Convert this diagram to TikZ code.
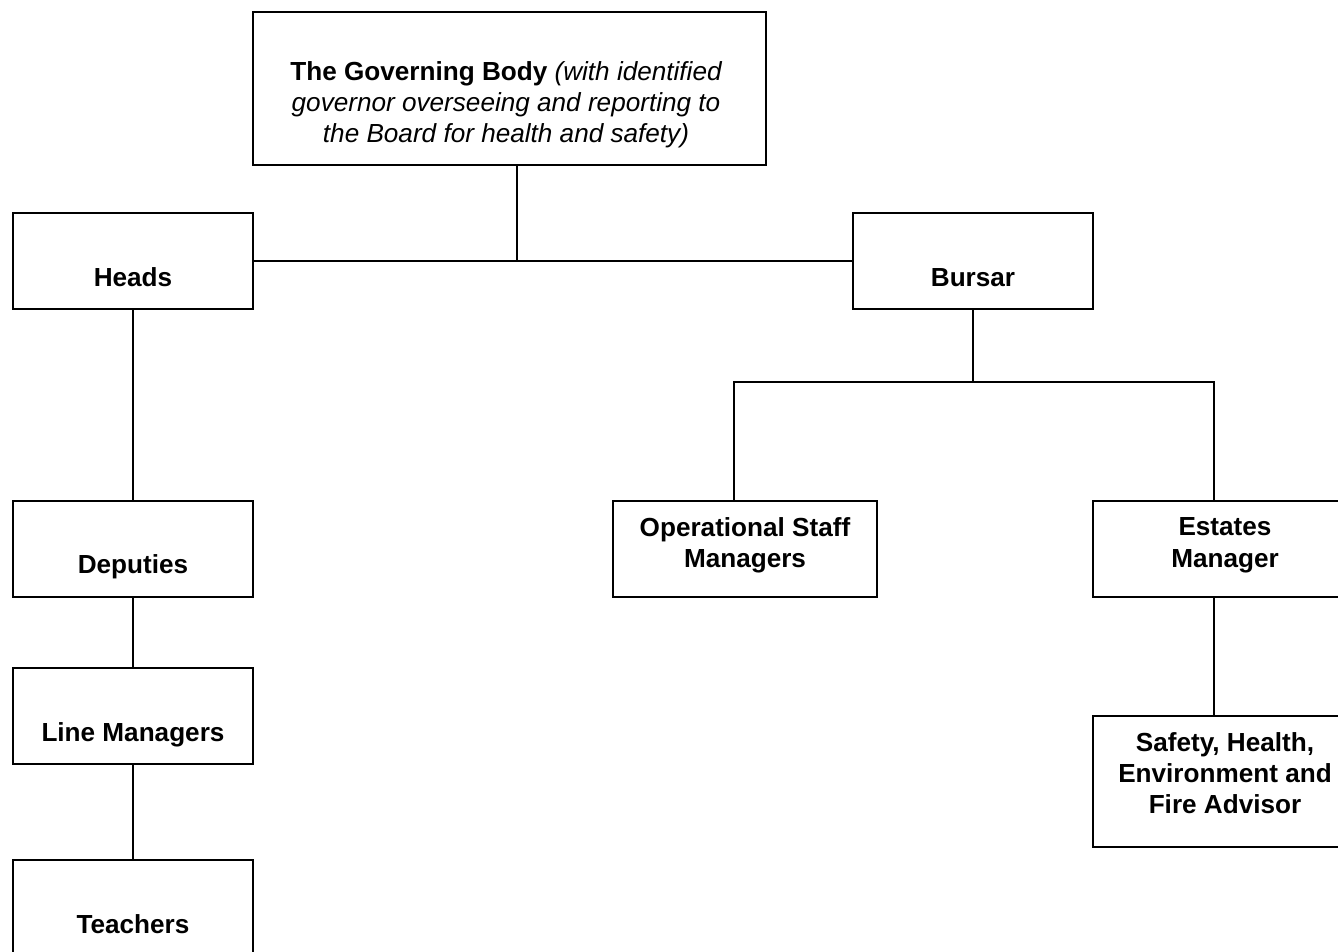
\documentclass[tikz,border=0pt]{standalone}
\usepackage{fontspec}
\setmainfont{Liberation Sans}
\begin{document}
\begin{tikzpicture}[x=0.75pt,y=-0.75pt,
  box/.style={draw, line width=1.5pt, rectangle, inner sep=0pt},
  stdbox/.style={box, minimum width=180pt, minimum height=72pt},
  widebox/.style={box, minimum width=198pt, minimum height=72pt},
  conn/.style={line width=1.1pt},
  lbl/.style={anchor=base, inner sep=0pt, font=\fontsize{19.6pt}{23.25pt}\selectfont\bfseries},
  itl/.style={anchor=base, inner sep=0pt, font=\fontsize{19.6pt}{23.25pt}\selectfont\itshape}]
\useasboundingbox (0,0) rectangle (1338,951);
\clip (0,0) rectangle (1338,951);

% boxes
\node[box, minimum width=384.75pt, minimum height=114.75pt] (gov) at (509.5,88.5) {};
\node[stdbox] (heads) at (133,261) {};
\node[stdbox] (bursar) at (973,261) {};
\node[stdbox] (deputies) at (133,549) {};
\node[stdbox] (linemgr) at (133,716) {};
\node[stdbox] (teachers) at (133,908) {};
\node[widebox] (ops) at (745,549) {};
\node[widebox] (estates) at (1225,549) {};
\node[box, minimum width=198pt, minimum height=98.25pt] (safety) at (1225,781.5) {};

% connectors
\coordinate (j1) at (517,261);
\coordinate (j2) at (973,382);
\coordinate (j3) at (734,382);
\coordinate (j4) at (1214,382);
\draw[conn] (gov.south -| j1) -- (j1);
\draw[conn] (heads.east) -- (bursar.west);
\draw[conn] (bursar.south) -- (j2);
\draw[conn] (ops.north -| j3) -- (j3) -- (j4) -- (estates.north -| j4);
\draw[conn] (estates.south -| j4) -- (safety.north -| j4);
\draw[conn] (heads.south) -- (deputies.north);
\draw[conn] (deputies.south) -- (linemgr.north);
\draw[conn] (linemgr.south) -- (teachers.north);

% texts
\node[lbl] (gt1) at (506,80) {The Governing Body {\mdseries\itshape (with identified}};
\node[itl] (gt2) at (506,111) {governor overseeing and reporting to};
\node[itl] (gt3) at (506,142) {the Board for health and safety)};
\node[lbl] (th) at (133,286) {Heads};
\node[lbl] (tb) at (973,286) {Bursar};
\node[lbl] (td) at (133,573) {Deputies};
\node[lbl] (tl) at (133,741) {Line Managers};
\node[lbl] (tt) at (133,933) {Teachers};
\node[lbl] (to1) at (745,536) {Operational Staff};
\node[lbl] (to2) at (745,567) {Managers};
\node[lbl] (te1) at (1225,535) {Estates};
\node[lbl] (te2) at (1225,567) {Manager};
\node[lbl] (ts1) at (1225,751) {Safety, Health,};
\node[lbl] (ts2) at (1225,782) {Environment and};
\node[lbl] (ts3) at (1225,813) {Fire Advisor};
\end{tikzpicture}
\end{document}
